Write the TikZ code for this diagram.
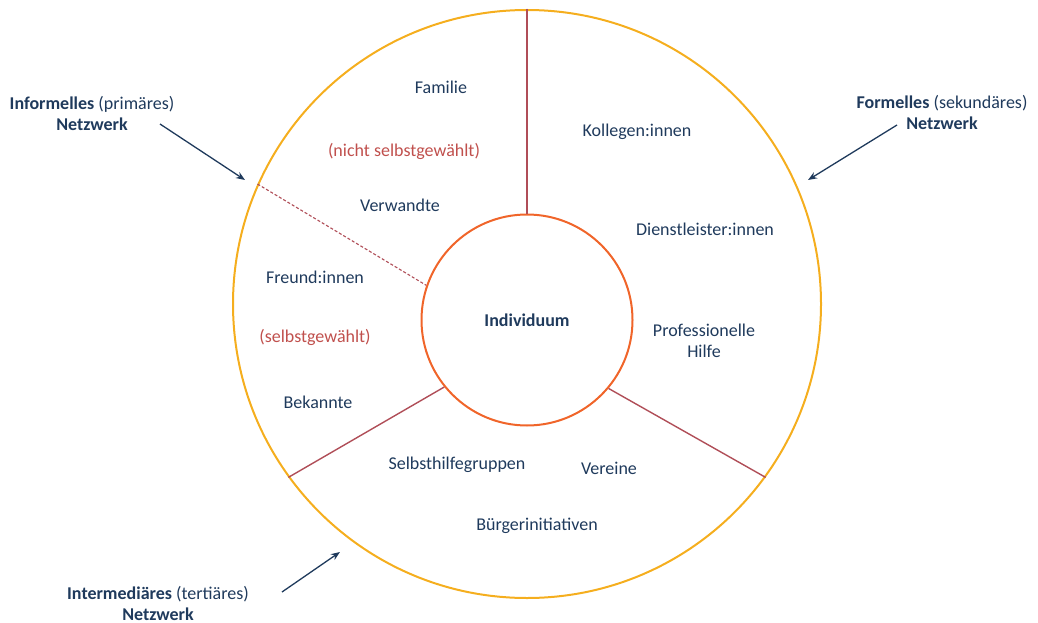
\documentclass[tikz,border=0pt]{standalone}
\usepackage{fontspec}
\setmainfont{Carlito}
\usetikzlibrary{arrows.meta}
\definecolor{navy}{HTML}{1F3A5C}
\definecolor{ringgold}{HTML}{F5AE1E}
\definecolor{ringred}{HTML}{F0652A}
\definecolor{lineRed}{HTML}{B04E58}
\definecolor{txtRed}{HTML}{C0504D}
\begin{document}
\begin{tikzpicture}[x=1pt,y=-1pt]
        \tikzset{every node/.style={font=\fontsize{18}{20}\selectfont, text=navy, align=center, inner sep=0pt},
          lab/.style={font=\fontsize{18}{21}\selectfont},
          red/.style={text=txtRed},
          sep/.style={draw=lineRed, line width=1.4pt},
          pointer/.style={draw=navy, line width=1.3pt, -{Stealth[length=9pt,width=7pt]}}}
        \useasboundingbox (0,0) rectangle (1038,623);
        \node [circle, draw=ringgold, line width=2pt, minimum size=588pt] (net) at (527,304) {};
        \node [circle, draw=ringred, line width=2pt, minimum size=211pt, font=\fontsize{18}{20}\selectfont\bfseries] (ind) at (527,320) {Individuum};
        % Trennlinien
        \draw [sep] (net.90) -- (ind.90);
        \draw [sep, dashed, dash pattern=on 3pt off 2pt, line width=1.1pt] (net.156.5) -- (ind.161);
        \draw [sep] (net.216) -- (ind.219);
        \draw [sep] (net.324) -- (ind.320);
        % Texte im Ring
        \node (fam) at (441,87) {Familie};
        \node [red] (nsg) at (404,151) {(nicht selbstgewählt)};
        \node (verw) at (400,205) {Verwandte};
        \node (freund) at (315,277) {Freund:innen};
        \node [red] (sg) at (315,337) {(selbstgewählt)};
        \node (bek) at (318,402) {Bekannte};
        \node (koll) at (637,132) {Kollegen:innen};
        \node (dienst) at (705,229) {Dienstleister:innen};
        \node [lab] (prof) at (704,341) {Professionelle\\Hilfe};
        \node (shg) at (457,465) {Selbsthilfegruppen};
        \node (ver) at (609,468) {Vereine};
        \node (buerger) at (537,526) {Bürgerinitiativen};
        % Netzwerke aussen
        \node [lab] (inf) at (92,113) {\textbf{Informelles} (primäres)\\\textbf{Netzwerk}};
        \node [lab] (form) at (942,112) {\textbf{Formelles} (sekundäres)\\\textbf{Netzwerk}};
        \node [lab] (inter) at (158,603) {\textbf{Intermediäres} (tertiäres)\\\textbf{Netzwerk}};
        \coordinate (infA) at (160,124);
        \coordinate (infB) at (245,180);
        \coordinate (formA) at (897,125);
        \coordinate (formB) at (808,180);
        \coordinate (interA) at (282,592);
        \coordinate (interB) at (340,552);
        \draw [pointer] (infA) -- (infB);
        \draw [pointer] (formA) -- (formB);
        \draw [pointer] (interA) -- (interB);
\end{tikzpicture}
\end{document}
